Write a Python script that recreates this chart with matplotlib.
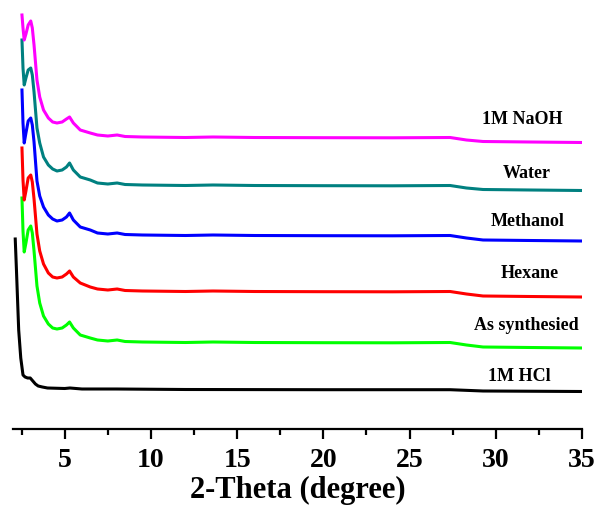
import matplotlib
matplotlib.use('Agg')
import matplotlib.pyplot as plt
from matplotlib.ticker import MultipleLocator

plt.rcParams['font.family'] = 'Liberation Serif'
plt.rcParams['font.weight'] = 'bold'

# 2-theta positions shared by the treated samples
two_theta = [2.52, 2.58, 2.65, 2.75, 2.88, 3.03, 3.12, 3.22, 3.39, 3.55, 3.77, 4.05,
             4.3, 4.55, 4.85, 5.1, 5.28, 5.5, 5.9, 6.48, 6.9, 7.5, 8.04, 8.5, 9.5,
             12, 13.6, 16, 20, 24, 27.35, 28.3, 29.26, 32, 35]

as_synth = [145, 112, 91, 100, 113, 117, 110, 92, 57, 40, 27, 19, 15, 14, 15, 18, 21,
            15, 8, 5, 3, 2, 3, 1.5, 1, 0.5, 1, 0.5, 0.3, 0.2, 0.5, -2, -4, -4.5, -5]
hexane = [144, 112, 92, 101, 114, 117, 110, 93, 58, 41, 28, 19, 15, 14, 15, 18, 21,
          15, 9, 5, 3, 2, 3, 1.5, 1, 0.5, 1, 0.5, 0.3, 0.2, 0.5, -2, -4, -4.5, -5]
methanol = [146, 113, 93, 103, 115, 118, 111, 94, 55, 40, 29, 21, 17, 15, 16, 19, 23,
            16, 9, 6, 3, 2, 3, 1.5, 1, 0.5, 1, 0.5, 0.3, 0.2, 0.5, -2, -4, -4.5, -5]
water = [146, 118, 101, 108, 116, 118, 111, 94, 58, 43, 29, 21, 17, 15, 16, 19, 23,
         16, 9, 6, 3, 2, 3, 1.5, 1, 0.5, 1, 0.5, 0.3, 0.2, 0.5, -2, -3.5, -4, -4.5]
naoh = [123, 110, 98, 104, 113, 117, 110, 93, 58, 41, 28, 20, 16, 15, 16, 19, 21,
        15, 8, 5, 3, 2, 3, 1.5, 1, 0.5, 1, 0.5, 0.3, 0.2, 0.5, -2, -3.5, -4, -4.5]

# the acid-treated sample has its own, finer start
two_theta_hcl = [2.13, 2.2, 2.33, 2.45, 2.58, 2.7, 2.85, 3.0, 3.15, 3.3, 3.46, 3.7,
                 4.0, 5.0, 5.3, 6.0, 8.0, 12, 20, 27.35, 29.26, 35]
hcl = [151, 120, 60, 32, 15, 13, 12, 12, 9, 6, 4, 3, 2, 1.5, 2, 1, 1, 0.5, 0.3, 0.3,
       -1, -1.5]

names = ['1M HCl', 'As synthesied', 'Hexane', 'Methanol', 'Water', '1M NaOH']
colors = ['black', '#00FF00', '#FF0000', '#0000FF', '#008080', '#FF00FF']
offsets = [39, 86, 137, 193, 243, 291]
label_pos = [(31.35, 53), (31.75, 103), (31.99, 156), (31.87, 207), (31.81, 256), (31.52, 309)]

fig = plt.figure(figsize=(6.02, 5.11), dpi=100)
ax = fig.add_axes([13 / 602, 82 / 511, 569 / 602, 429 / 511])

series = [(two_theta_hcl, hcl), (two_theta, as_synth), (two_theta, hexane),
          (two_theta, methanol), (two_theta, water), (two_theta, naoh)]
for (xs, ys), off, c in zip(series, offsets, colors):
    ax.plot(xs, [v + off for v in ys], color=c, lw=2.2, solid_joinstyle='round')

for name, (lx, ly) in zip(names, label_pos):
    ax.text(lx, ly, name, ha='center', va='center', fontsize=13, fontweight='bold')

ax.set_xlim(2.0, 35)
ax.set_ylim(0, 429)
for s in ['left', 'right', 'top']:
    ax.spines[s].set_visible(False)
ax.spines['bottom'].set_linewidth(1.6)
ax.set_yticks([])
ax.xaxis.set_major_locator(MultipleLocator(5))
ax.xaxis.set_minor_locator(MultipleLocator(2.5))
ax.tick_params(axis='x', which='major', direction='out', length=7, width=1.6,
               labelsize=20, pad=7)
ax.tick_params(axis='x', which='minor', direction='out', length=4, width=1.6)
ax.set_xticks([5, 10, 15, 20, 25, 30, 35])
ax.set_xlabel('2-Theta (degree)', fontsize=22, fontweight='bold', labelpad=2)

fig.savefig('out.png', dpi=100)
